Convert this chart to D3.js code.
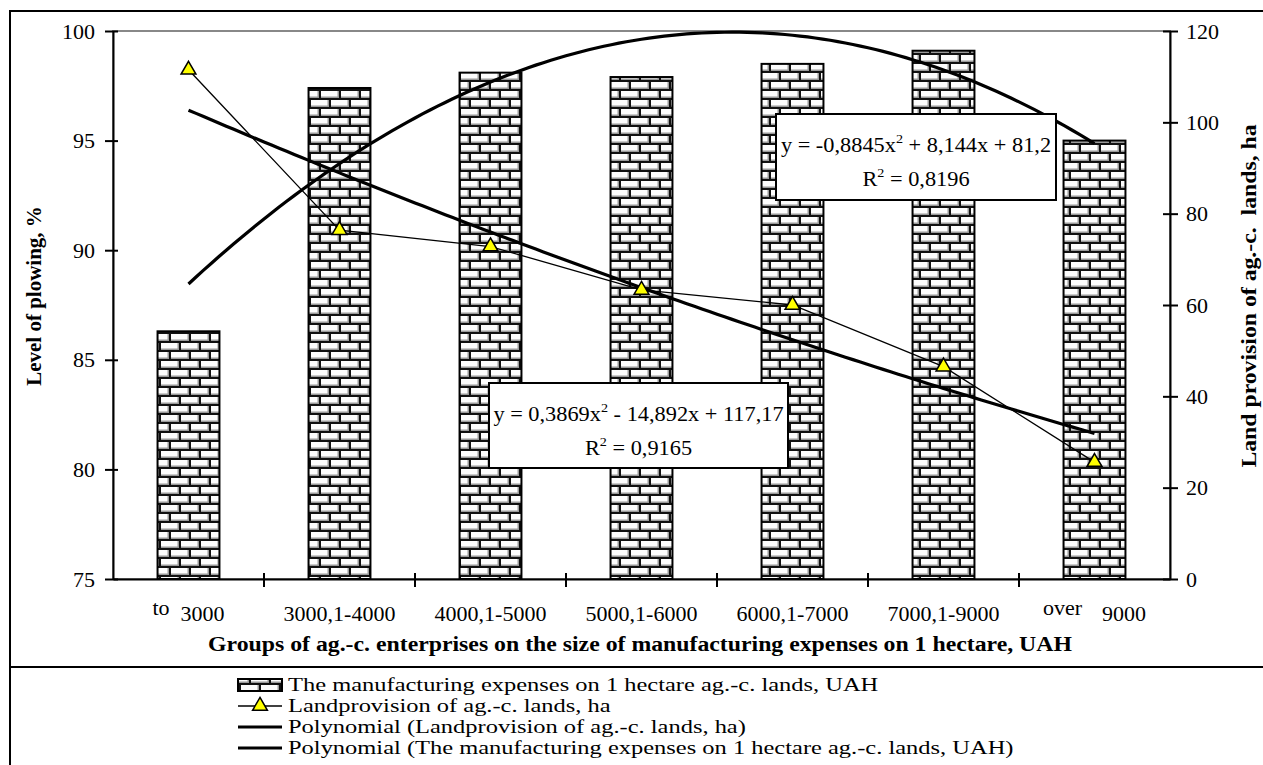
<!DOCTYPE html>
<html>
<head>
<meta charset="utf-8">
<script src="https://cdn.jsdelivr.net/npm/d3@7"></script>
<style>
  html, body { margin: 0; padding: 0; background: #fff; }
  svg { display: block; font-family: "Liberation Serif", "Times New Roman", serif; }
  svg text { fill: #000; font-family: "Liberation Serif", "Times New Roman", serif; }
</style>
</head>
<body>
<svg id="chart" width="1263" height="765"></svg>
<script>
// Groups of agricultural enterprises by manufacturing expenses per hectare
const categories = ["to 3000", "3000,1-4000", "4000,1-5000", "5000,1-6000", "6000,1-7000", "7000,1-9000", "over 9000"];
// Bars, left axis (level of plowing, %)
const expenses = [86.3, 97.4, 98.1, 97.9, 98.5, 99.1, 95.0];
// Triangles, right axis (land provision, ha)
const landProvision = [111.5, 76.4, 72.8, 63.3, 60.0, 46.5, 25.6];
// Polynomial trend coefficients [a, b, c] for y = a*x^2 + b*x + c
const trendExpenses = [-0.8845, 8.144, 81.2];
const trendLand = [0.3869, -14.892, 117.17];
const r2Expenses = "0,8196";
const r2Land = "0,9165";
const leftTicks = [75, 80, 85, 90, 95, 100];
const rightTicks = [0, 20, 40, 60, 80, 100, 120];
const legendLabels = [
  "The manufacturing expenses on 1 hectare ag.-c. lands, UAH",
  "Landprovision of ag.-c. lands, ha",
  "Polynomial (Landprovision of ag.-c. lands, ha)",
  "Polynomial (The manufacturing expenses on 1 hectare ag.-c. lands, UAH)"
];

const svg = d3.select("#chart");
const plotL = 113, plotR = 1170, plotT = 31, plotB = 579;

// Brick fill for bars
const defs = svg.append("defs");
const pat = defs.append("pattern").attr("id", "brick")
  .attr("patternUnits", "userSpaceOnUse").attr("width", 20).attr("height", 18);
pat.append("rect").attr("width", 20).attr("height", 18).attr("fill", "#111");
[[1, 1], [-9, 10], [11, 10]].forEach(([bx, by]) => {
  pat.append("rect").attr("x", bx).attr("y", by).attr("width", 18).attr("height", 7).attr("fill", "#fdfdfd");
  pat.append("rect").attr("x", bx).attr("y", by + 5.5).attr("width", 18).attr("height", 1.5).attr("fill", "#9a9a9a");
  pat.append("rect").attr("x", bx + 16.5).attr("y", by).attr("width", 1.5).attr("height", 7).attr("fill", "#9a9a9a");
});

// Outer frame and legend separator
svg.append("rect").attr("x", 10).attr("y", 11).attr("width", 1262).attr("height", 800)
  .attr("fill", "none").attr("stroke", "#000").attr("stroke-width", 2);
svg.append("line").attr("x1", 10).attr("x2", 1263).attr("y1", 667).attr("y2", 667)
  .attr("stroke", "#000").attr("stroke-width", 2);

const x = d3.scaleBand().domain(categories).range([plotL, plotR]).padding(0);
const bw = x.bandwidth();
const yL = d3.scaleLinear().domain([75, 100]).range([plotB, plotT]);
const yR = d3.scaleLinear().domain([0, 120]).range([plotB, plotT]);
const xi = d3.scaleLinear().domain([1, categories.length])
  .range([x(categories[0]) + bw / 2, x(categories[categories.length - 1]) + bw / 2]);

// Plot area border (gray)
svg.append("rect").attr("x", plotL).attr("y", plotT).attr("width", plotR - plotL).attr("height", plotB - plotT)
  .attr("fill", "none").attr("stroke", "#888").attr("stroke-width", 2);

// Bars
const barW = bw * 0.41;
svg.append("g").selectAll("rect").data(expenses).join("rect")
  .attr("x", (d, i) => x(categories[i]) + bw / 2 - barW / 2)
  .attr("y", d => yL(d))
  .attr("width", barW)
  .attr("height", d => yL(75) - yL(d))
  .attr("fill", "url(#brick)")
  .attr("stroke", "#000").attr("stroke-width", 2);

// Axes
const axL = svg.append("g").attr("transform", `translate(${plotL},0)`)
  .call(d3.axisLeft(yL).tickValues(leftTicks).tickSizeOuter(0).tickSizeInner(8).tickPadding(10));
axL.selectAll(".tick line").attr("x1", 5);
const axR = svg.append("g").attr("transform", `translate(${plotR},0)`)
  .call(d3.axisRight(yR).tickValues(rightTicks).tickSizeOuter(0).tickSizeInner(8).tickPadding(8));
axR.selectAll(".tick line").attr("x1", -7);
const axB = svg.append("g").attr("transform", `translate(0,${plotB})`)
  .call(d3.axisBottom(x).tickValues([]).tickSizeOuter(0));
[axL, axR, axB].forEach(a => {
  a.attr("font-family", null).attr("font-size", null);
  a.select(".domain").attr("stroke-width", 2);
  a.selectAll(".tick line").attr("stroke-width", 2);
  a.selectAll(".tick text").attr("font-size", 22).attr("fill", "#000");
});
// Category boundary ticks
axB.selectAll(".bnd").data(categories.slice(1)).join("line").attr("class", "bnd")
  .attr("x1", d => x(d)).attr("x2", d => x(d)).attr("y1", -6).attr("y2", 8)
  .attr("stroke", "#000").attr("stroke-width", 2);
// Category labels; a leading word ("to", "over") sits slightly raised
axB.selectAll(".cat").data(categories).join("text").attr("class", "cat")
  .attr("x", d => x(d) + bw / 2).attr("y", 42)
  .attr("text-anchor", "middle").attr("font-size", 22).attr("fill", "#000")
  .each(function (d) {
    const t = d3.select(this);
    const parts = d.split(" ");
    if (parts.length > 1) {
      const gap = parts[0] === "over" ? 20 : 11;
      t.append("tspan").attr("dy", -6).text(parts[0]);
      t.append("tspan").attr("dx", gap).attr("dy", 6).text(parts.slice(1).join(" "));
    } else {
      t.text(d);
    }
  });

// Axis titles
svg.append("text").attr("transform", "translate(41,296) rotate(-90)")
  .attr("text-anchor", "middle").attr("font-weight", "bold").attr("font-size", 21)
  .text("Level of plowing, %");
svg.append("text").attr("transform", "translate(1256,296) rotate(-90) scale(1.08,1)")
  .attr("text-anchor", "middle").attr("font-weight", "bold").attr("font-size", 22)
  .attr("xml:space", "preserve")
  .text("Land provision of ag.-c.  lands, ha");
svg.append("text").attr("transform", "translate(640,651) scale(1.16,1)")
  .attr("text-anchor", "middle").attr("font-weight", "bold").attr("font-size", 20.5)
  .text("Groups of ag.-c. enterprises on the size of manufacturing expenses on 1 hectare, UAH");

// Polynomial trend lines
const poly = c => t => c[0] * t * t + c[1] * t + c[2];
const ts = d3.range(1, categories.length + 0.001, 0.05);
const fE = poly(trendExpenses), fL = poly(trendLand);
svg.append("path").datum(ts)
  .attr("d", d3.line().x(t => xi(t)).y(t => yL(fE(t))))
  .attr("fill", "none").attr("stroke", "#000").attr("stroke-width", 3.2);
svg.append("path").datum(ts)
  .attr("d", d3.line().x(t => xi(t)).y(t => yR(fL(t))))
  .attr("fill", "none").attr("stroke", "#000").attr("stroke-width", 3.2);

// Land provision line with triangle markers
svg.append("path").datum(landProvision)
  .attr("d", d3.line().x((d, i) => xi(i + 1)).y(d => yR(d)))
  .attr("fill", "none").attr("stroke", "#000").attr("stroke-width", 1.3);
const tri = d3.symbol().type(d3.symbolTriangle).size(95);
svg.append("g").selectAll("path").data(landProvision).join("path")
  .attr("transform", (d, i) => `translate(${xi(i + 1)},${yR(d)})`)
  .attr("d", tri)
  .attr("fill", "#ffff00").attr("stroke", "#000").attr("stroke-width", 1.5);

// Trend equation boxes
function eqBox(bx, by, w, h, coef, r2) {
  const g = svg.append("g");
  g.append("rect").attr("x", bx).attr("y", by).attr("width", w).attr("height", h)
    .attr("fill", "#fff").attr("stroke", "#000").attr("stroke-width", 2);
  const fmt = v => Math.abs(v).toString().replace(".", ",");
  const sgn = v => (v < 0 ? "- " : "+ ");
  const t1 = g.append("text").attr("transform", `translate(${bx + w / 2},${by + 38}) scale(1.09,1)`)
    .attr("text-anchor", "middle").attr("font-size", 20.5);
  t1.append("tspan").text("y = " + (coef[0] < 0 ? "-" : "") + fmt(coef[0]) + "x");
  t1.append("tspan").attr("dy", -9).attr("font-size", 13).text("2");
  t1.append("tspan").attr("dy", 9).text(" " + sgn(coef[1]) + fmt(coef[1]) + "x " + sgn(coef[2]) + fmt(coef[2]));
  const t2 = g.append("text").attr("transform", `translate(${bx + w / 2},${by + 72}) scale(1.09,1)`)
    .attr("text-anchor", "middle").attr("font-size", 20.5);
  t2.append("tspan").text("R");
  t2.append("tspan").attr("dy", -9).attr("font-size", 13).text("2");
  t2.append("tspan").attr("dy", 9).text(" = " + r2);
}
eqBox(776, 114, 280, 86, trendExpenses, r2Expenses);
eqBox(489, 383, 299, 85, trendLand, r2Land);

// Legend
const lx = 238, lw = 44, tx = 288;
const rows = [685, 706, 727, 748];
svg.append("rect").attr("x", lx).attr("y", rows[0] - 6).attr("width", lw).attr("height", 12)
  .attr("fill", "url(#brick)").attr("stroke", "#000").attr("stroke-width", 2);
svg.append("line").attr("x1", lx).attr("x2", lx + lw).attr("y1", rows[1]).attr("y2", rows[1])
  .attr("stroke", "#000").attr("stroke-width", 1.3);
svg.append("path").attr("transform", `translate(${lx + lw / 2},${rows[1]})`).attr("d", tri)
  .attr("fill", "#ffff00").attr("stroke", "#000").attr("stroke-width", 1.5);
[2, 3].forEach(i => svg.append("line").attr("x1", lx).attr("x2", lx + lw)
  .attr("y1", rows[i]).attr("y2", rows[i]).attr("stroke", "#000").attr("stroke-width", 3.2));
svg.append("g").selectAll("text").data(legendLabels).join("text")
  .attr("transform", (d, i) => `translate(${tx},${rows[i] + 6}) scale(1.36,1)`)
  .attr("font-size", 18)
  .text(d => d);
</script>
</body>
</html>
